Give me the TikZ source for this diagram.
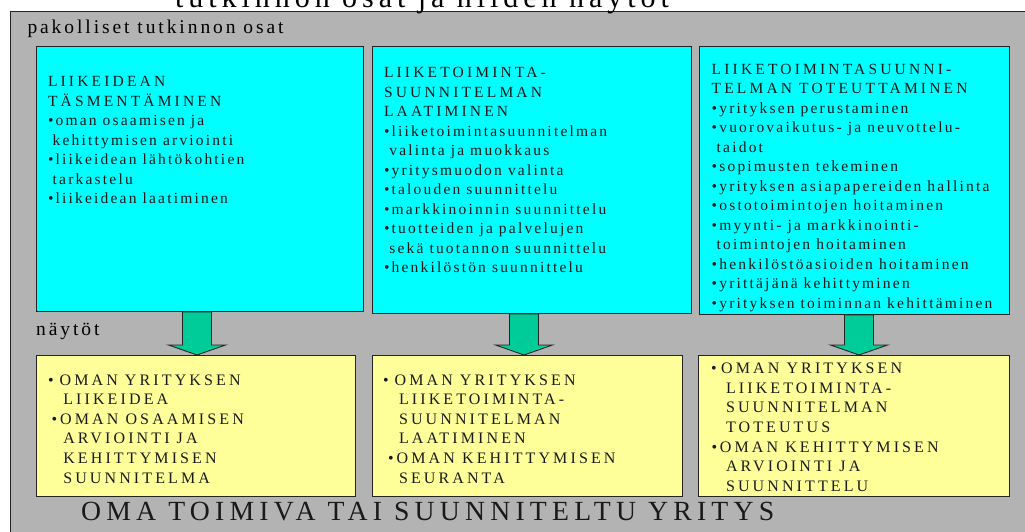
\documentclass[tikz,border=0pt]{standalone}
\usepackage{fontspec}
\setmainfont{Liberation Serif}
\newfontfamily\lowsp[LetterSpace=14.2]{Liberation Serif}
\newfontfamily\capsp[LetterSpace=20.5]{Liberation Serif}
\newfontfamily\ycapsp[LetterSpace=19.5]{Liberation Serif}
\newfontfamily\bigsp[LetterSpace=18.8]{Liberation Serif}
\newfontfamily\labsp[LetterSpace=15]{Liberation Serif}
\newfontfamily\titsp[LetterSpace=16.5]{Liberation Serif}
\usetikzlibrary{calc}
\definecolor{bggray}{RGB}{179,179,179}
\definecolor{boxcyan}{RGB}{0,255,255}
\definecolor{boxyellow}{RGB}{255,255,153}
\definecolor{arrowgreen}{RGB}{0,204,153}
\definecolor{edgedark}{RGB}{35,35,35}
\newcommand\tline[1]{\hbox{#1}}
\newcommand\tstack[2]{\vtop{\baselineskip=#1\lineskiplimit=-100pt\lineskip=0pt\relax #2}}
\newcommand\fatarrow[3]{%
  \coordinate (ax#1) at (#1,0);
  \draw[blockarrow] ($(ax#1 |- #2.south)+(-14.5,0)$) -- ($(ax#1 |- #3.north)+(-14.5,-10)$)
    -- ($(ax#1 |- #3.north)+(-28.5,-10)$) -- (ax#1 |- #3.north)
    -- ($(ax#1 |- #3.north)+(28.5,-10)$) -- ($(ax#1 |- #3.north)+(14.5,-10)$)
    -- ($(ax#1 |- #2.south)+(14.5,0)$) -- cycle;}
\begin{document}
\begin{tikzpicture}[x=1pt,y=-1pt,
  cyanbox/.style={draw=edgedark, line width=0.9pt, fill=boxcyan, inner sep=0, anchor=north west},
  yellowbox/.style={draw=edgedark, line width=0.9pt, fill=boxyellow, inner sep=0, anchor=north west},
  blockarrow/.style={draw=edgedark, line width=0.9pt, fill=arrowgreen, line join=miter},
  txt/.style={anchor=base west, inner sep=0, outer sep=0, text=black!90, font=\fontsize{15.5}{19.5}\selectfont},
  ytxt/.style={anchor=base west, inner sep=0, outer sep=0, text=black!90, font=\fontsize{16}{19.6}\selectfont\ycapsp},
]
\useasboundingbox (0,0) rectangle (1025,532);
\fill[white] (0,0) rectangle (1025,532);
\fill[bggray] (10,11.5) rectangle (1040,545);
\draw[draw=edgedark, line width=0.9pt] (1040,11.5) -- (10,11.5) -- (10,545);
\node[anchor=base west, inner sep=0, font=\fontsize{30}{30}\selectfont\titsp] (title) at (175,7.3) {tutkinnon osat ja niiden näytöt};
\node[anchor=base west, inner sep=0, font=\fontsize{19.5}{20}\selectfont\labsp] (pak) at (27.3,33.3) {pakolliset tutkinnon osat};
\node[anchor=base west, inner sep=0, font=\fontsize{19.5}{20}\selectfont\labsp] (nay) at (36,335) {näytöt};

\node[cyanbox, minimum width=327, minimum height=265] (c1) at (36,46) {};
\node[cyanbox, minimum width=319, minimum height=267] (c2) at (372,46) {};
\node[cyanbox, minimum width=310, minimum height=268] (c3) at (699,46) {};

\node[yellowbox, minimum width=319, minimum height=141] (y1) at (36,355) {};
\node[yellowbox, minimum width=310, minimum height=141] (y2) at (372,355) {};
\node[yellowbox, minimum width=311, minimum height=141] (y3) at (698,355) {};

\fatarrow{197}{c1}{y1}
\fatarrow{524}{c2}{y2}
\fatarrow{859}{c3}{y3}

\node[txt] (t1) at (48,86.7) {\tstack{19.5pt}{%
  \tline{\capsp LIIKEIDEAN}
  \tline{\capsp TÄSMENTÄMINEN}
  \tline{\lowsp •oman osaamisen ja}
  \tline{\lowsp\kern4.7pt kehittymisen arviointi}
  \tline{\lowsp •liikeidean lähtökohtien}
  \tline{\lowsp\kern4.7pt tarkastelu}
  \tline{\lowsp •liikeidean laatiminen}}};

\node[txt] (t2) at (384,77.7) {\tstack{19.53pt}{%
  \tline{\capsp LIIKETOIMINTA-}
  \tline{\capsp SUUNNITELMAN}
  \tline{\capsp LAATIMINEN}
  \tline{\lowsp •liiketoimintasuunnitelman}
  \tline{\lowsp\kern5.3pt valinta ja muokkaus}
  \tline{\lowsp •yritysmuodon valinta}
  \tline{\lowsp •talouden suunnittelu}
  \tline{\lowsp •markkinoinnin suunnittelu}
  \tline{\lowsp •tuotteiden ja palvelujen}
  \tline{\lowsp\kern5.3pt sekä tuotannon suunnittelu}
  \tline{\lowsp •henkilöstön suunnittelu}}};

\node[txt] (t3) at (711.7,74.3) {\tstack{19.5pt}{%
  \tline{\capsp LIIKETOIMINTASUUNNI-}
  \tline{\capsp TELMAN TOTEUTTAMINEN}
  \tline{\lowsp •yrityksen perustaminen}
  \tline{\lowsp •vuorovaikutus- ja neuvottelu-}
  \tline{\lowsp\kern5pt taidot}
  \tline{\lowsp •sopimusten tekeminen}
  \tline{\lowsp •yrityksen asiapapereiden hallinta}
  \tline{\lowsp •ostotoimintojen hoitaminen}
  \tline{\lowsp •myynti- ja markkinointi-}
  \tline{\lowsp\kern5pt toimintojen hoitaminen}
  \tline{\lowsp •henkilöstöasioiden hoitaminen}
  \tline{\lowsp •yrittäjänä kehittyminen}
  \tline{\lowsp •yrityksen toiminnan kehittäminen}}};

\node[ytxt] (u1) at (48,385) {\tstack{19.65pt}{%
  \tline{•\kern6pt OMAN YRITYKSEN}
  \tline{\kern15.3pt LIIKEIDEA}
  \tline{\kern3.5pt•OMAN OSAAMISEN}
  \tline{\kern15.3pt ARVIOINTI JA}
  \tline{\kern15.3pt KEHITTYMISEN}
  \tline{\kern15.3pt SUUNNITELMA}}};

\node[ytxt] (u2) at (383,385) {\tstack{19.65pt}{%
  \tline{•\kern6pt OMAN YRITYKSEN}
  \tline{\kern16pt LIIKETOIMINTA-}
  \tline{\kern16pt SUUNNITELMAN}
  \tline{\kern16pt LAATIMINEN}
  \tline{\kern5pt•OMAN KEHITTYMISEN}
  \tline{\kern16pt SEURANTA}}};

\node[ytxt] (u3) at (711,373.3) {\tstack{19.7pt}{%
  \tline{•\kern4.6pt OMAN YRITYKSEN}
  \tline{\kern15pt LIIKETOIMINTA-}
  \tline{\kern15pt SUUNNITELMAN}
  \tline{\kern15pt TOTEUTUS}
  \tline{\kern0.7pt•\kern2.6pt OMAN KEHITTYMISEN}
  \tline{\kern15pt ARVIOINTI JA}
  \tline{\kern15pt SUUNNITTELU}}};

\node[anchor=base west, inner sep=0, text=black!90, font=\fontsize{27.7}{28}\selectfont\bigsp] (bottom) at (81,520) {OMA TOIMIVA TAI SUUNNITELTU YRITYS};
\end{tikzpicture}
\end{document}
